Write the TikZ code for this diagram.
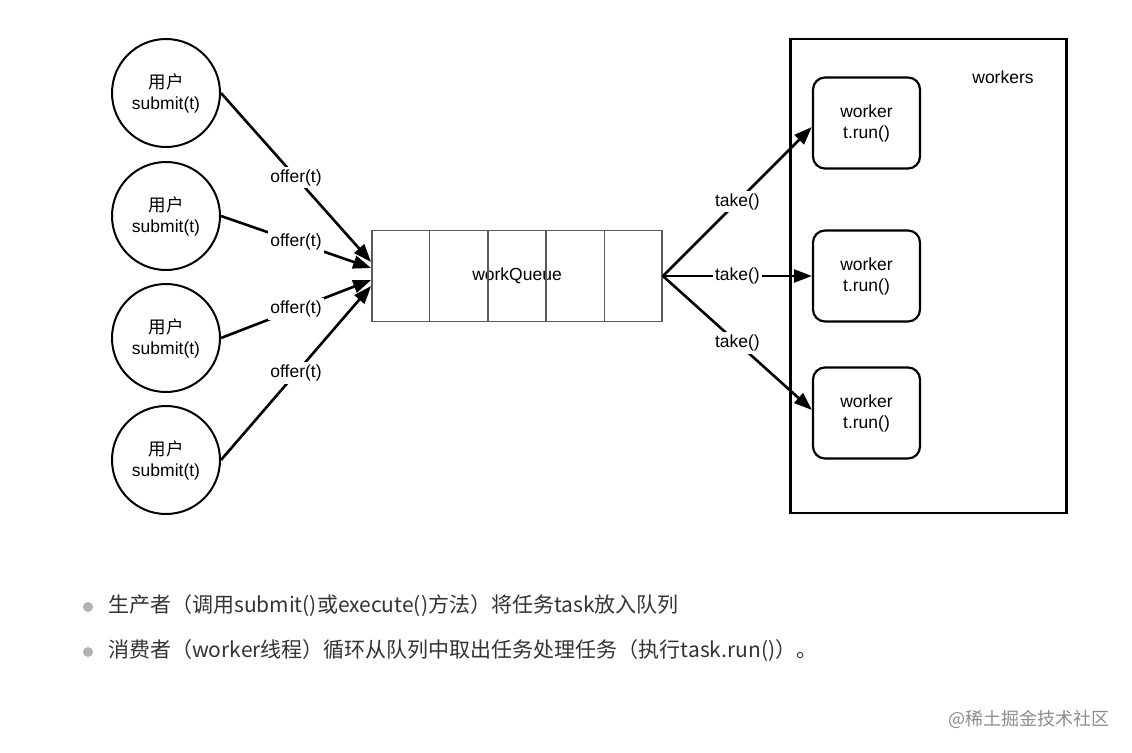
\documentclass[tikz,border=0pt]{standalone}
\usepackage{fontspec}
\setmainfont{Liberation Sans}
\newfontfamily\cjk{Noto Sans CJK SC}
\usetikzlibrary{arrows.meta,calc}

\begin{document}
\begin{tikzpicture}[x=1pt,y=1pt,yscale=-1,
  user/.style={draw,circle,line width=2pt,minimum size=108pt,inner sep=0pt,align=center,font=\fontsize{17.5}{21}\selectfont},
  worker/.style={draw,rounded corners=12pt,line width=2.2pt,minimum width=107pt,minimum height=91pt,align=center,font=\fontsize{17.5}{21}\selectfont},
  lbl/.style={fill=white,inner sep=2.5pt,font=\fontsize{17.5}{21}\selectfont},
  flow/.style={line width=2.6pt,-{Triangle[length=18pt,width=13pt]}},
  note/.style={anchor=west,inner sep=0pt,text=black!80,font=\cjk\fontsize{21}{25}\selectfont},
  dot/.style={circle,fill=black!30,inner sep=0pt,minimum size=10pt}]
\useasboundingbox (0,0) rectangle (1132,752);

%Shape: users
\node[user] (u1) at (166,93) {{\cjk 用户}\\submit(t)};
\node[user] (u2) at (166,216) {{\cjk 用户}\\submit(t)};
\node[user] (u3) at (166,338) {{\cjk 用户}\\submit(t)};
\node[user] (u4) at (166,460) {{\cjk 用户}\\submit(t)};

%Shape: queue
\node[draw=black!65,line width=1.8pt,minimum width=290pt,minimum height=91pt,inner sep=0pt,font=\fontsize{17.5}{21}\selectfont] (q) at (517,276) {workQueue};
\foreach \i in {1,...,4}
  \draw[black!65,line width=1.8pt] ($(q.north west)!\i/5!(q.north east)$) -- ($(q.south west)!\i/5!(q.south east)$);

%Shape: worker pool
\node[draw,line width=2.4pt,minimum width=276pt,minimum height=474pt,inner sep=0pt] (pool) at (928.5,276) {};
\node[font=\fontsize{17.5}{21}\selectfont] (poolname) at (1003,77) {workers};
\node[worker] (w1) at (866.5,123) {worker\\t.run()};
\node[worker] (w2) at (866.5,276) {worker\\t.run()};
\node[worker] (w3) at (866.5,413) {worker\\t.run()};

%Straight Lines: offer
\draw[flow] (u1.east) -- node[lbl]{offer(t)} ([yshift=-14pt]q.west);
\draw[flow] (u2.east) -- node[lbl]{offer(t)} ([yshift=-8pt]q.west);
\draw[flow] (u3.east) -- node[lbl]{offer(t)} ([yshift=4pt]q.west);
\draw[flow] (u4.east) -- node[lbl]{offer(t)} ([yshift=10pt]q.west);

%Straight Lines: take
\draw[flow] (q.east) -- node[lbl]{take()} ([yshift=4pt]w1.west);
\draw[flow] (q.east) -- node[lbl]{take()} (w2.west);
\draw[flow] (q.east) -- node[lbl]{take()} ([yshift=-3pt]w3.west);

% Text Node
\node[dot] (b1) at (88,607) {};
\node[note] (t1) at (108,606) {生产者（调用submit()或execute()方法）将任务task放入队列};
\node[dot] (b2) at (88,652) {};
\node[note] (t2) at (108,651) {消费者（worker线程）循环从队列中取出任务处理任务（执行task.run()）。};
% Text Node
\node[anchor=east,text=black!45,font=\cjk\fontsize{18}{22}\selectfont] (mark) at (1113,719) {@稀土掘金技术社区};

\end{tikzpicture}
\end{document}
